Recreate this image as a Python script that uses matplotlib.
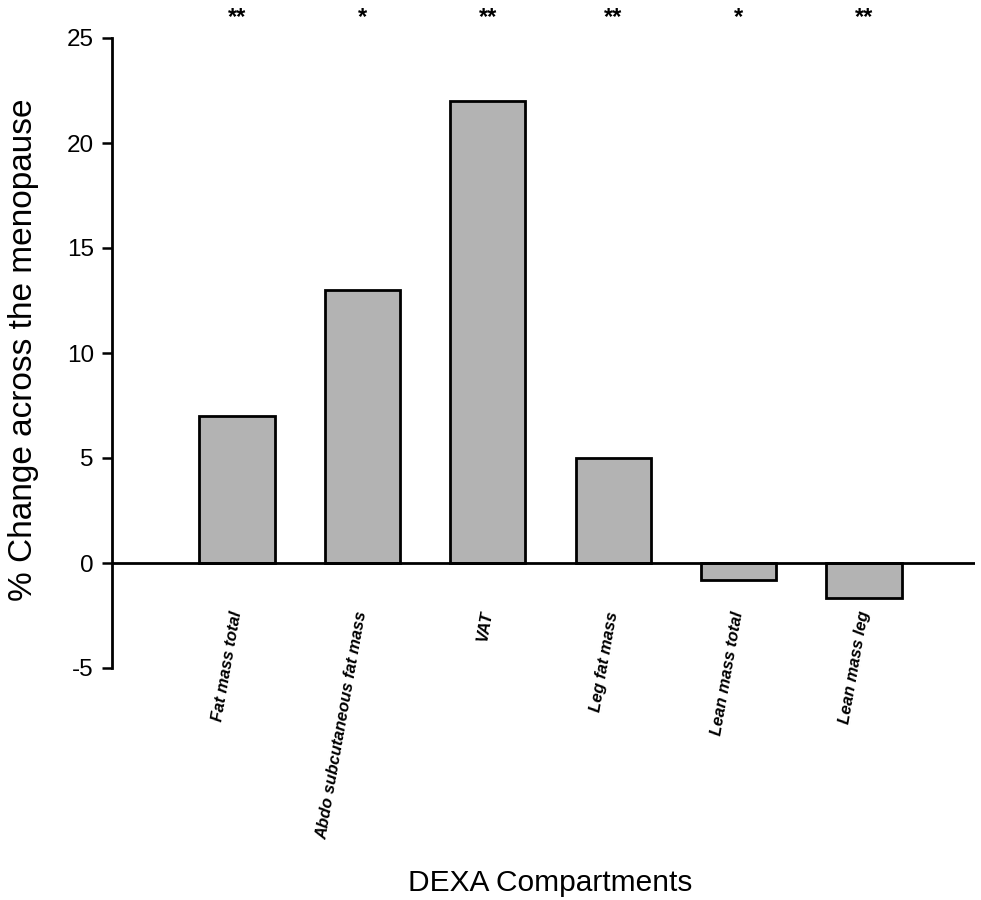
import matplotlib
matplotlib.use("Agg")
import matplotlib.pyplot as plt
import numpy as np

plt.rcParams['font.family'] = ['Liberation Sans', 'DejaVu Sans']

categories = ["Fat mass total", "Abdo subcutaneous fat mass", "VAT",
              "Leg fat mass", "Lean mass total", "Lean mass leg"]
values = [7.0, 13.0, 22.0, 5.0, -0.8, -1.65]
significance = ["**", "*", "**", "**", "*", "**"]
yticks = [-5, 0, 5, 10, 15, 20, 25]

fig = plt.figure(figsize=(9.81, 9.0), dpi=100)
ax = fig.add_axes([112/981, 1-668/900, (975-112)/981, (668-38)/900])

x = np.arange(len(categories))
ax.bar(x, values, width=0.6, color='#b3b3b3', edgecolor='black', linewidth=2, zorder=2)
ax.axhline(0, color='black', linewidth=2, zorder=3)

ax.set_xlim(-0.997, 5.885)
ax.set_ylim(-5, 25)
ax.set_yticks(yticks)
ax.set_yticklabels([str(t) for t in yticks], fontsize=17.5)
ax.tick_params(axis='y', direction='out', length=7, width=1.8, pad=6)
ax.set_xticks([])
for s in ['top', 'right', 'bottom']:
    ax.spines[s].set_visible(False)
ax.spines['left'].set_linewidth(2)

for xi, lab in zip(x, categories):
    ax.text(xi, -2.3, lab, rotation=80, rotation_mode='anchor', ha='right', va='center',
            fontsize=12, fontweight='bold', fontstyle='italic')

for xi, sig in zip(x, significance):
    ax.text(xi, 25.65, sig, ha='center', va='baseline', fontsize=17, fontweight='bold',
            clip_on=False)

fig.text(24/981, 1-350/900, "% Change across the menopause", rotation=90,
         ha='center', va='center', fontsize=24)
fig.text(550/981, 1-883/900, "DEXA Compartments", ha='center', va='center', fontsize=21.5)

fig.savefig("out.png", dpi=100)
